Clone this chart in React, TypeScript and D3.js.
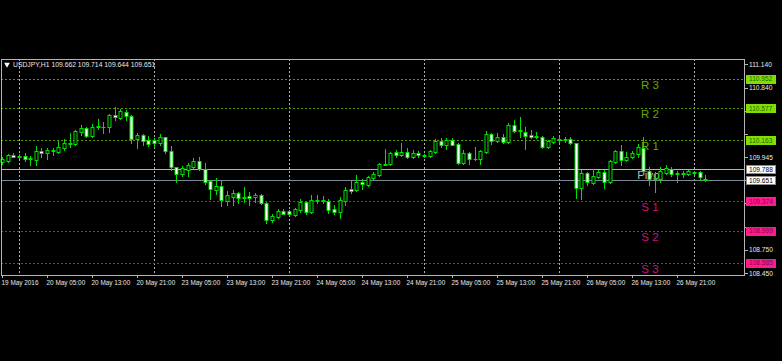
import React, { useRef, useEffect } from "react";
import * as d3 from "d3";

// USDJPY H1, bars from 19 May 2016 21:00 (index 0) to 27 May 02:00 (index 125)
const opens = [
  109.878, 109.895, 109.968, 109.96, 109.96, 109.93, 109.908, 110.028, 109.994, 110.033,
  110.016, 110.067, 110.131, 110.11, 110.273, 110.324, 110.217, 110.342, 110.337, 110.329,
  110.487, 110.453, 110.526, 110.479, 110.183, 110.226, 110.161, 110.161, 110.123, 110.2,
  110.028, 109.814, 109.728, 109.78, 109.823, 109.891, 109.797, 109.634, 109.526, 109.578,
  109.385, 109.436, 109.479, 109.432, 109.445, 109.436, 109.458, 109.355, 109.136, 109.179,
  109.248, 109.248, 109.205, 109.265, 109.372, 109.243, 109.393, 109.387, 109.385, 109.273,
  109.243, 109.385, 109.531, 109.522, 109.629, 109.587, 109.672, 109.715, 109.857, 109.852,
  110.007, 109.968, 110.011, 109.943, 109.998, 109.973, 109.964, 110.016, 110.157, 110.106,
  110.166, 110.11, 109.865, 110.003, 109.925, 109.917, 110.016, 110.239, 110.149, 110.209,
  110.14, 110.363, 110.29, 110.273, 110.234, 110.213, 110.204, 110.071, 110.144, 110.179,
  110.174, 110.174, 110.123, 109.544, 109.737, 109.617, 109.694, 109.754, 109.621, 109.878,
  110.02, 109.908, 109.951, 109.986, 110.067, 109.771, 109.672, 109.659, 109.745, 109.788,
  109.737, 109.741, 109.724, 109.754, 109.75, 109.662,
];
const highs = [
  109.951, 109.981, 110.003, 109.981, 109.994, 109.96, 110.088, 110.058, 110.058, 110.067,
  110.157, 110.179, 110.26, 110.294, 110.359, 110.337, 110.372, 110.436, 110.402, 110.496,
  110.586, 110.56, 110.552, 110.492, 110.252, 110.239, 110.217, 110.187, 110.243, 110.209,
  110.088, 109.823, 109.831, 109.874, 109.93, 109.951, 109.865, 109.651, 109.672, 109.642,
  109.514, 109.522, 109.501, 109.565, 109.501, 109.479, 109.471, 109.372, 109.213, 109.273,
  109.282, 109.265, 109.291, 109.402, 109.385, 109.458, 109.458, 109.445, 109.402, 109.329,
  109.436, 109.565, 109.642, 109.715, 109.659, 109.702, 109.758, 109.865, 110.046, 110.016,
  110.037, 110.123, 110.058, 110.037, 110.02, 109.986, 110.037, 110.174, 110.187, 110.187,
  110.187, 110.123, 110.037, 110.016, 110.08, 110.037, 110.286, 110.26, 110.26, 110.243,
  110.38, 110.423, 110.457, 110.329, 110.294, 110.273, 110.217, 110.166, 110.217, 110.209,
  110.209, 110.209, 110.131, 109.78, 109.758, 109.788, 109.78, 109.78, 109.908, 110.037,
  110.101, 110.016, 110.028, 110.114, 110.209, 109.814, 109.758, 109.814, 109.844, 109.814,
  109.771, 109.771, 109.78, 109.771, 109.767, 109.714,
];
const lows = [
  109.857, 109.883, 109.943, 109.93, 109.9, 109.844, 109.844, 109.951, 109.917, 109.973,
  109.994, 110.037, 110.08, 110.101, 110.23, 110.209, 110.2, 110.303, 110.26, 110.269,
  110.423, 110.44, 110.423, 110.131, 110.067, 110.101, 110.088, 110.08, 110.101, 109.994,
  109.78, 109.63, 109.702, 109.702, 109.801, 109.78, 109.599, 109.402, 109.471, 109.316,
  109.329, 109.329, 109.351, 109.372, 109.329, 109.372, 109.342, 109.102, 109.115, 109.158,
  109.209, 109.2, 109.188, 109.243, 109.213, 109.23, 109.351, 109.351, 109.23, 109.213,
  109.158, 109.329, 109.479, 109.514, 109.531, 109.578, 109.651, 109.702, 109.844, 109.844,
  109.951, 109.96, 109.93, 109.93, 109.943, 109.951, 109.951, 110.003, 110.08, 110.046,
  110.097, 109.857, 109.852, 109.857, 109.908, 109.852, 109.994, 110.11, 110.14, 110.123,
  110.131, 110.269, 110.209, 110.05, 110.191, 110.191, 110.063, 110.063, 110.131, 110.144,
  110.144, 110.114, 109.415, 109.402, 109.587, 109.599, 109.672, 109.544, 109.608, 109.865,
  109.844, 109.895, 109.93, 109.951, 109.745, 109.587, 109.501, 109.629, 109.728, 109.707,
  109.629, 109.694, 109.711, 109.728, 109.651, 109.644,
];
const closes = [
  109.917, 109.968, 109.951, 109.947, 109.925, 109.921, 110.028, 110.003, 110.037, 110.024,
  110.076, 110.131, 110.11, 110.286, 110.316, 110.217, 110.337, 110.333, 110.333, 110.483,
  110.457, 110.535, 110.479, 110.179, 110.234, 110.153, 110.119, 110.123, 110.2, 110.028,
  109.814, 109.728, 109.801, 109.844, 109.891, 109.792, 109.621, 109.535, 109.578, 109.393,
  109.458, 109.488, 109.419, 109.424, 109.419, 109.462, 109.351, 109.136, 109.188, 109.248,
  109.218, 109.213, 109.273, 109.372, 109.243, 109.393, 109.385, 109.383, 109.265, 109.243,
  109.393, 109.522, 109.514, 109.629, 109.595, 109.69, 109.728, 109.852, 109.848, 110.003,
  109.973, 110.011, 109.943, 109.994, 109.973, 109.964, 110.02, 110.157, 110.106, 110.161,
  110.106, 109.865, 109.994, 109.921, 109.917, 110.02, 110.239, 110.157, 110.209, 110.14,
  110.363, 110.286, 110.281, 110.222, 110.209, 110.204, 110.071, 110.153, 110.187, 110.17,
  110.17, 110.131, 109.544, 109.745, 109.621, 109.702, 109.754, 109.621, 109.9, 110.02,
  109.908, 109.951, 109.998, 110.071, 109.771, 109.664, 109.659, 109.771, 109.81, 109.724,
  109.728, 109.732, 109.762, 109.745, 109.685, 109.651,
];

// time axis labels, one every 8 bars
const timeLabels = [
  "19 May 2016", "20 May 05:00", "20 May 13:00", "20 May 21:00", "23 May 05:00",
  "23 May 13:00", "23 May 21:00", "24 May 05:00", "24 May 13:00", "24 May 21:00",
  "25 May 05:00", "25 May 13:00", "25 May 21:00", "26 May 05:00", "26 May 13:00",
  "26 May 21:00",
];
const labelStep = 8;
// bars that open a new day (00:00) -> vertical grid
const dayStarts = [3, 27, 51, 75, 99, 123];

const priceTicks = [111.14, 110.84, 110.54, 110.24, 109.945, 109.645, 109.35, 109.05, 108.75, 108.45];

const pivotNames = ["R 3", "R 2", "R 1", "Pivot", "S 1", "S 2", "S 3"];
const pivotValues = [110.952, 110.577, 110.163, 109.788, 109.374, 108.999, 108.585];
const pivotLabelBar = 115.2;

const symbol = "USDJPY,H1";
const lastBar = [109.662, 109.714, 109.644, 109.651];

const App = () => {
  const svgRef = useRef(null);

  useEffect(() => {
    const width = 782;
    const height = 361;
    const left = 1;
    const right = 745;
    const top = 59;
    const bottom = 275;
    const font = "Liberation Sans, Arial, sans-serif";

    const svg = d3.select(svgRef.current).attr("width", width).attr("height", height).html("");

    svg.append("rect").attr("width", width).attr("height", height).attr("fill", "#000");

    const x = d3.scaleLinear().domain([0, 125]).range([2, 705.125]);
    const y = d3.scaleLinear().domain([108.428, 111.208]).range([bottom, top]);
    const px = (v) => Math.round(x(v)) + 0.5;
    const py = (v) => Math.round(y(v)) + 0.5;

    // vertical grid
    svg
      .selectAll("line.grid")
      .data(dayStarts)
      .enter()
      .append("line")
      .attr("x1", (d) => px(d))
      .attr("x2", (d) => px(d))
      .attr("y1", top)
      .attr("y2", bottom)
      .attr("stroke", "#b0b0b0")
      .attr("stroke-dasharray", "2,2");

    // pivot levels
    const colorOf = (i) => (i < 3 ? "#5c9a00" : i === 3 ? "#b4b4b4" : "#c2136e");
    pivotValues.forEach((v, i) => {
      svg
        .append("line")
        .attr("x1", left)
        .attr("x2", right)
        .attr("y1", py(v))
        .attr("y2", py(v))
        .attr("stroke", colorOf(i))
        .attr("stroke-dasharray", i === 3 ? null : "2,2");
      svg
        .append("text")
        .attr("x", x(pivotLabelBar))
        .attr("y", y(v) + 10)
        .attr("text-anchor", "middle")
        .attr("font-family", font)
        .attr("font-size", 11.5)
        .attr("fill", i < 3 ? "#62aa00" : i === 3 ? "#b8b8b8" : "#c8137a")
        .text(pivotNames[i]);
    });

    // bid line
    svg
      .append("line")
      .attr("x1", left)
      .attr("x2", right)
      .attr("y1", py(lastBar[3]))
      .attr("y2", py(lastBar[3]))
      .attr("stroke", "#7a8a96");

    // candles
    const green = "#00e000";
    const g = svg.append("g");
    opens.forEach((o, i) => {
      const c = closes[i];
      const cx = px(i);
      g.append("line")
        .attr("x1", cx)
        .attr("x2", cx)
        .attr("y1", Math.round(y(highs[i])))
        .attr("y2", Math.round(y(lows[i])) + 1)
        .attr("stroke", green);
      const y0 = Math.round(y(Math.max(o, c)));
      const y1 = Math.round(y(Math.min(o, c)));
      if (y1 - y0 < 1) {
        g.append("line")
          .attr("x1", cx - 2)
          .attr("x2", cx + 2)
          .attr("y1", y0 + 0.5)
          .attr("y2", y0 + 0.5)
          .attr("stroke", green);
      } else {
        g.append("rect")
          .attr("x", cx - 1.5)
          .attr("y", y0 + 0.5)
          .attr("width", 3)
          .attr("height", y1 - y0)
          .attr("fill", c >= o ? "#000" : "#fff")
          .attr("stroke", green);
      }
    });

    // frame
    svg
      .append("rect")
      .attr("x", left + 0.5)
      .attr("y", top + 0.5)
      .attr("width", right - left - 1)
      .attr("height", bottom - top)
      .attr("fill", "none")
      .attr("stroke", "#b4b4b4");

    // level boxes on the price axis (current price included)
    const boxFill = (i) => (i < 3 ? "#7fe000" : i === 3 ? "#ffffff" : "#ff1a8f");
    const boxText = (i) => (i < 3 ? "#2f6000" : i === 3 ? "#000" : "#7a0a45");
    const boxes = pivotValues.map((v, i) => ({ v, fill: boxFill(i), text: boxText(i) }));
    boxes.push({ v: lastBar[3], fill: "#ffffff", text: "#000" });

    // price axis: ticks everywhere, labels only where no level box sits on top
    priceTicks.forEach((v) => {
      svg
        .append("line")
        .attr("x1", right)
        .attr("x2", right + 3)
        .attr("y1", py(v))
        .attr("y2", py(v))
        .attr("stroke", "#b4b4b4");
      const covered = boxes.some((b) => Math.abs(y(b.v) - y(v)) < 8);
      if (covered) return;
      svg
        .append("text")
        .attr("x", right + 4)
        .attr("y", y(v) + 2.4)
        .attr("font-family", font)
        .attr("font-size", 6.6)
        .attr("fill", "#e8e8e8")
        .text(d3.format(".3f")(v));
    });

    boxes.forEach((b) => {
      svg
        .append("rect")
        .attr("x", right + 1.5)
        .attr("y", Math.round(y(b.v)) - 3.5)
        .attr("width", 29)
        .attr("height", 8)
        .attr("fill", b.fill)
        .attr("stroke", b.fill === "#ffffff" ? "#8a8a8a" : b.fill);
      svg
        .append("text")
        .attr("x", right + 4)
        .attr("y", y(b.v) + 2.6)
        .attr("font-family", font)
        .attr("font-size", 6.6)
        .attr("fill", b.text)
        .text(d3.format(".3f")(b.v));
    });

    // time axis
    timeLabels.forEach((t, k) => {
      const bx = px(k * labelStep);
      svg
        .append("line")
        .attr("x1", bx)
        .attr("x2", bx)
        .attr("y1", bottom)
        .attr("y2", bottom + 3)
        .attr("stroke", "#b4b4b4");
      svg
        .append("text")
        .attr("x", bx - 1)
        .attr("y", bottom + 10)
        .attr("font-family", font)
        .attr("font-size", 6.4)
        .attr("fill", "#e8e8e8")
        .text(t);
    });

    // title
    svg
      .append("path")
      .attr("d", d3.symbol(d3.symbolTriangle, 14)())
      .attr("transform", "translate(7,64.5) rotate(180)")
      .attr("fill", "#fff");
    svg
      .append("text")
      .attr("x", 13)
      .attr("y", 67)
      .attr("font-family", font)
      .attr("font-size", 6.8)
      .attr("fill", "#e8e8e8")
      .text(`${symbol}  ${lastBar.map((v) => d3.format(".3f")(v)).join(" ")}`);
  }, []);

  return <svg ref={svgRef} style={{ position: "absolute", left: 0, top: 0, display: "block" }} />;
};

export default App;
